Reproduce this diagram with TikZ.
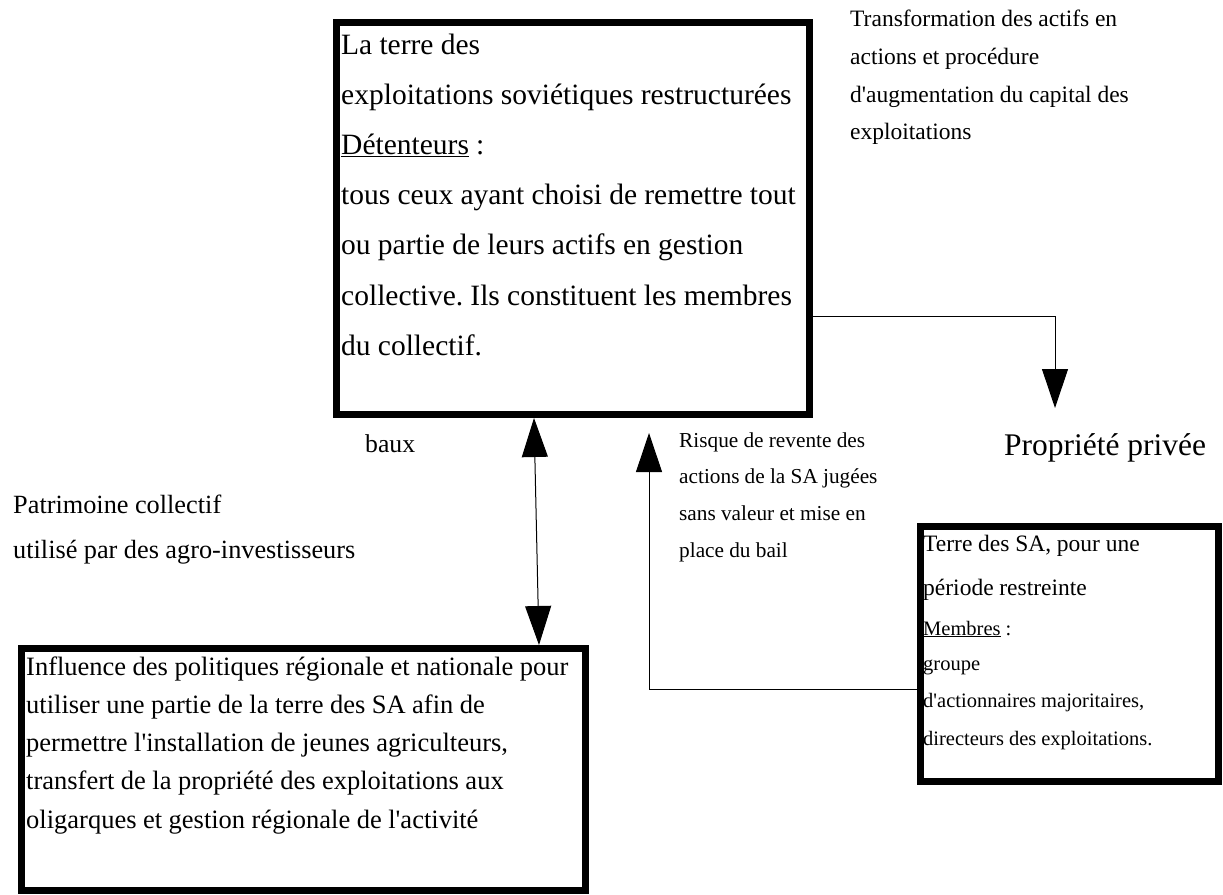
\documentclass[tikz,border=0pt]{standalone}
\usepackage{fontspec}
\setmainfont{Liberation Serif}
\usetikzlibrary{arrows.meta}
\frenchspacing
\newcommand\fsz[2]{\fontsize{#1}{#2}\selectfont}
\newcommand\sps{\spaceskip=0.245em plus 0.1em minus 0.02em\xspaceskip=\spaceskip}
\tikzset{
  box/.style={draw=black, line width=7pt, rectangle, inner sep=0pt},
  txt/.style={anchor=base west, inner sep=0pt, text width=#1, align=left},
  conn/.style={line width=1pt, draw=black},
  arrowhd/.style={-{Triangle[width=26pt,length=39pt]}},
  dblarrowhd/.style={{Triangle[width=26pt,length=39pt]}-{Triangle[width=26pt,length=39pt]}},
}
\begin{document}
\begin{tikzpicture}[x=1pt,y=-1pt]
\useasboundingbox (0,0) rectangle (1223,894);

% boxes
\node[box, minimum width=473pt, minimum height=392pt] (b1) at (573,218.5) {};
\node[box, minimum width=298pt, minimum height=255pt] (b2) at (1069.5,654) {};
\node[box, minimum width=564pt, minimum height=242pt] (b3) at (303.5,769.5) {};

% box texts
\node[txt=470pt, font=\fsz{29.5}{50.2}] (t1) at (341,54) {\sps
La terre des\\
exploitations soviétiques restructurées\\
\underline{Détenteurs} :\\
tous ceux ayant choisi de remettre tout\\
ou partie de leurs actifs en gestion\\
collective. Ils constituent les membres\\
du collectif.};

\node[txt=298pt, font=\fsz{20.5}{38}] (t2) at (923,551) {\sps
{\fsz{23.5}{38}\sps Terre des SA, pour une}\\[6pt]
{\fsz{23.5}{38}\sps période restreinte}\\[2pt]
\underline{Membres} :\\[-3pt]
groupe\\[-1pt]
d\textquotesingle actionnaires majoritaires,\\
directeurs des exploitations.};

\node[txt=595pt, font=\fsz{26.5}{38.3}] (t3) at (26,675) {\sps
Influence des politiques régionale et nationale pour\\
utiliser une partie de la terre des SA afin de\\
permettre l\textquotesingle installation de jeunes agriculteurs,\\
transfert de la propriété des exploitations aux\\
oligarques et gestion régionale de l\textquotesingle activité};

% free texts
\node[txt=370pt, font=\fsz{23.5}{37.5}] (trans) at (850,27) {\sps
Transformation des actifs en\\
actions et procédure\\
d\textquotesingle augmentation du capital des\\
exploitations};

\node[anchor=base west, inner sep=0pt, font=\fsz{31.5}{36}] (prop) at (1004,455) {\sps Propriété privée};

\node[anchor=base west, inner sep=0pt, font=\fsz{25.7}{30}] (baux) at (365,452) {baux};

\node[txt=420pt, font=\fsz{26.3}{45}] (patr) at (13,513) {\sps
Patrimoine collectif\\
utilisé par des agro-investisseurs};

\node[txt=240pt, font=\fsz{21.3}{36.7}] (risque) at (679,447) {\sps
Risque de revente des\\
actions de la SA jugées\\
sans valeur et mise en\\
place du bail};

% connectors
\coordinate (pcorner) at (1055,316);
\coordinate (ptip) at (1055,408);
\draw[conn, arrowhd] (b1.east |- pcorner) -- (pcorner) -- (ptip);

\coordinate (dtop) at (534,0);
\coordinate (dbot) at (539,0);
\draw[conn, dblarrowhd] (b1.south -| dtop) -- (b3.north -| dbot);

\coordinate (rcorner) at (649,689);
\coordinate (rtip) at (649,433);
\draw[conn, arrowhd] (b2.west |- rcorner) -- (rcorner) -- (rtip);
\end{tikzpicture}
\end{document}
